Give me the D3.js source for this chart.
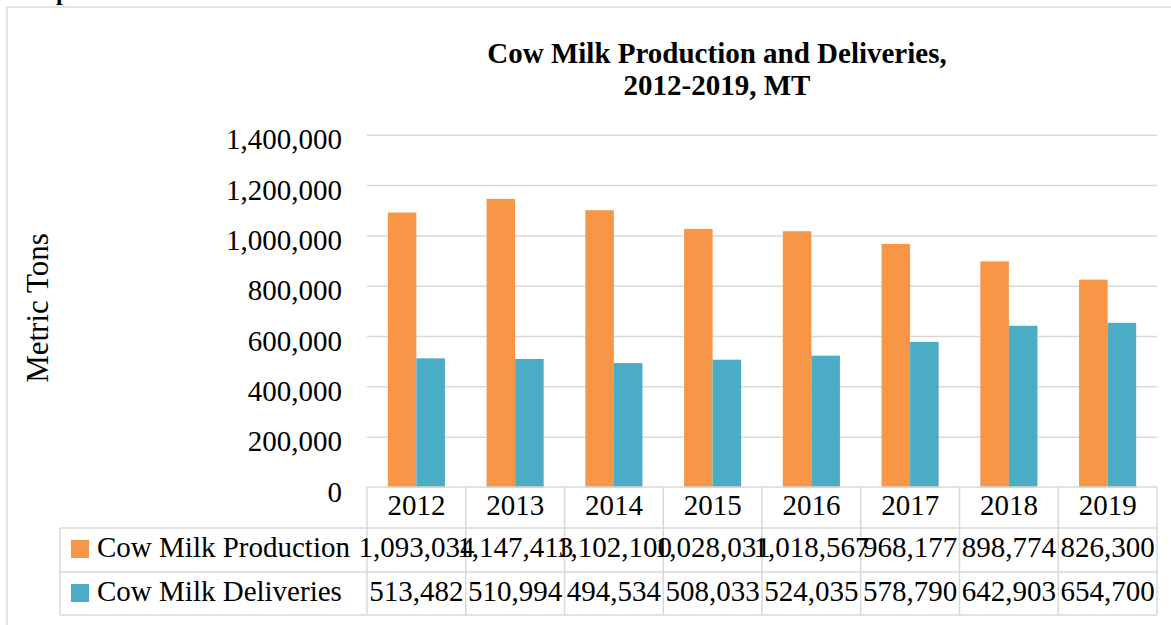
<!DOCTYPE html>
<html>
<head>
<meta charset="utf-8">
<script src="https://cdn.jsdelivr.net/npm/d3@7"></script>
<style>
  html, body { margin: 0; padding: 0; background: #fff; }
  svg text { font-family: "Liberation Serif", "Times New Roman", serif; }
</style>
</head>
<body>
<svg id="chart" width="1171" height="625"></svg>
<script>
const years = ["2012", "2013", "2014", "2015", "2016", "2017", "2018", "2019"];
const seriesNames = ["Cow Milk Production", "Cow Milk Deliveries"];
const production = [1093034, 1147413, 1102100, 1028031, 1018567, 968177, 898774, 826300];
const deliveries = [513482, 510994, 494534, 508033, 524035, 578790, 642903, 654700];
const colors = ["#F79646", "#4BACC6"];
const yTicks = [0, 200000, 400000, 600000, 800000, 1000000, 1200000, 1400000];
const titleLines = ["Cow Milk Production and Deliveries,", "2012-2019, MT"];
const yTitle = "Metric Tons";

const svg = d3.select("#chart");
const grid = "#d9d9d9";
const fmt = d3.format(",");
const FS = 29;

// outer chart border (extends beyond the picture on the right and bottom)
svg.append("rect").attr("x", 7).attr("y", 7).attr("width", 1200).attr("height", 700)
  .attr("fill", "none").attr("stroke", grid).attr("stroke-width", 1.5);

// cut-off caption fragment above the chart
svg.append("text").attr("x", 56).attr("y", -0.5).attr("font-size", 24).attr("font-weight", "bold").text("p");

// title
svg.append("text").attr("text-anchor", "middle").attr("font-weight", "bold").attr("font-size", 29)
  .selectAll("tspan").data(titleLines).join("tspan")
  .attr("x", 717).attr("y", (d, i) => 63 + i * 32).text(d => d);

const x0 = d3.scaleBand().domain(years).range([367, 1157]).paddingInner(0).paddingOuter(0);
const x1 = d3.scaleBand().domain(seriesNames).range([0, x0.bandwidth()]).paddingInner(0).paddingOuter(0.73);
const y = d3.scaleLinear().domain([0, 1400000]).range([487.5, 135.3]);

// gridlines
svg.append("g").selectAll("line").data(yTicks.filter(d => d > 0)).join("line")
  .attr("x1", 367).attr("x2", 1157).attr("y1", d => y(d)).attr("y2", d => y(d))
  .attr("stroke", grid).attr("stroke-width", 1.5);

// y axis labels via d3 axis
const yAxis = d3.axisLeft(y).tickValues(yTicks).tickFormat(fmt).tickSize(0).tickPadding(0);
const ya = svg.append("g").attr("transform", "translate(342,0)").call(yAxis)
  .attr("font-family", null).attr("font-size", null);
ya.select(".domain").remove();
ya.selectAll("text").attr("font-size", FS).attr("fill", "#000")
  .attr("dy", "13.5").attr("x", 0);

// y title
svg.append("text").attr("transform", "translate(48,308) rotate(-90)").attr("text-anchor", "middle")
  .attr("font-size", 31).text(yTitle);

// bars
const seriesData = [production, deliveries];
seriesNames.forEach((name, si) => {
  svg.append("g").selectAll("rect").data(years).join("rect")
    .attr("x", (d) => x0(d) + x1(name))
    .attr("width", x1.bandwidth())
    .attr("y", (d, i) => y(seriesData[si][i]))
    .attr("height", (d, i) => y(0) - y(seriesData[si][i]))
    .attr("fill", colors[si]);
});

// data table
const tTop = 487, r1 = 528, r2 = 572, tBot = 615, tLeft = 60;
const tg = svg.append("g").attr("stroke", grid).attr("stroke-width", 1.5);
tg.append("line").attr("x1", 367).attr("x2", 1157).attr("y1", tTop).attr("y2", tTop);
[r1, r2, tBot].forEach(yy => tg.append("line").attr("x1", tLeft).attr("x2", 1157).attr("y1", yy).attr("y2", yy));
tg.append("line").attr("x1", tLeft).attr("x2", tLeft).attr("y1", r1).attr("y2", tBot);
tg.selectAll("line.v").data(years.concat(["end"])).join("line").attr("class", "v")
  .attr("x1", d => d === "end" ? 1157 : x0(d)).attr("x2", d => d === "end" ? 1157 : x0(d))
  .attr("y1", tTop).attr("y2", tBot);

// category labels
svg.append("g").selectAll("text").data(years).join("text")
  .attr("x", d => x0(d) + x0.bandwidth() / 2).attr("y", 515).attr("text-anchor", "middle")
  .attr("font-size", FS).text(d => d);

// values
const rowBase = [557, 601];
seriesNames.forEach((name, si) => {
  svg.append("g").selectAll("text").data(years).join("text")
    .attr("x", d => x0(d) + x0.bandwidth() / 2).attr("y", rowBase[si]).attr("text-anchor", "middle")
    .attr("font-size", FS).text((d, i) => fmt(seriesData[si][i]));
  svg.append("rect").attr("x", 71).attr("y", rowBase[si] - 17).attr("width", 18).attr("height", 18).attr("fill", colors[si]);
  svg.append("text").attr("x", 97).attr("y", rowBase[si]).attr("font-size", FS).text(name);
});
</script>
</body>
</html>
